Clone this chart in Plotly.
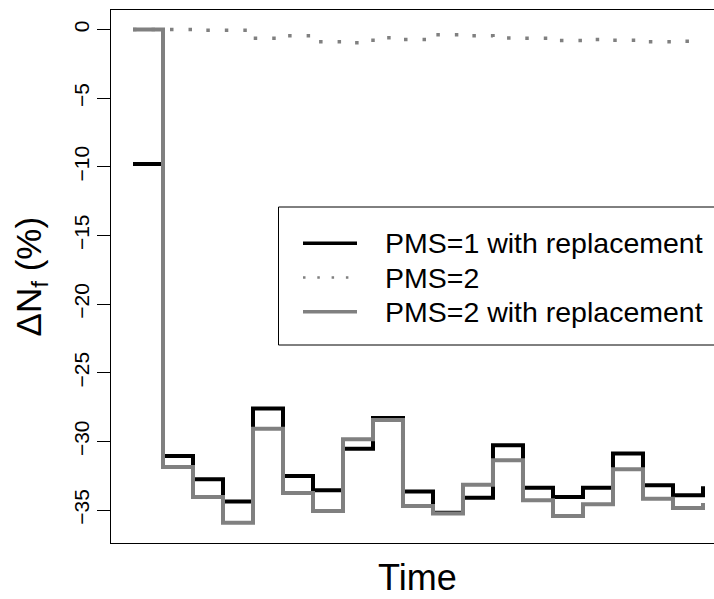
import plotly.graph_objects as go

# ---- data ----
time = list(range(1, 21))
pms1_repl = [-9.8, -31.06, -32.76, -34.37, -27.61, -32.52, -33.56, -30.53, -28.3, -33.64,
             -35.2, -34.1, -30.28, -33.37, -34.05, -33.37, -30.89, -33.2, -33.93, -33.27]
pms2 = [0, 0, -0.05, -0.05, -0.64, -0.45, -0.89, -0.96, -0.6, -0.72,
        -0.38, -0.45, -0.62, -0.64, -0.81, -0.72, -0.79, -0.89, -0.86, -0.86]
pms2_repl = [0, -31.87, -34.05, -35.92, -29.07, -33.76, -35.07, -29.85, -28.45, -34.7,
             -35.25, -33.15, -31.38, -34.29, -35.44, -34.58, -32.03, -34.17, -34.85, -34.49]
y_ticks = [0, -5, -10, -15, -20, -25, -30, -35]
series_names = ["PMS=1 with replacement", "PMS=2", "PMS=2 with replacement"]

FONT = "Liberation Sans, Arial, sans-serif"
GRAY = "#808080"
styles = [dict(color="black", width=4),
          dict(color=GRAY, width=3.5, dash="3.5px,15px"),
          dict(color=GRAY, width=4)]
legend_styles = [dict(color="black", width=3.5),
                 dict(color=GRAY, width=2.5, dash="2.5px,11.8px"),
                 dict(color=GRAY, width=3.5)]

fig = go.Figure()
for name, ys, st in zip(series_names, [pms1_repl, pms2, pms2_repl], styles):
    fig.add_trace(go.Scatter(x=time, y=ys, mode="lines", line_shape="hv",
                             line=st, name=name, showlegend=False))

# plot-area geometry (pixels) used to place the hand-drawn legend
L, T, W, H = 111, 10, 603, 533
px = lambda v: (v - L) / W
py = lambda v: 1 - (v - T) / H

shapes = [dict(type="rect", xref="paper", yref="paper",
               x0=px(278.5), x1=px(900), y0=py(345), y1=py(207),
               line=dict(color="black", width=1), fillcolor="white", layer="above")]
annotations = []
row_y = [243.3, 277.5, 311.7]
for name, ry, st in zip(series_names, row_y, legend_styles):
    shapes.append(dict(type="line", xref="paper", yref="paper",
                       x0=px(303), x1=px(357), y0=py(ry), y1=py(ry),
                       line=st, layer="above"))
    annotations.append(dict(text=name, xref="paper", yref="paper",
                            x=px(383), y=py(ry), xanchor="left", yanchor="middle",
                            showarrow=False, font=dict(size=28.5, family=FONT, color="black")))

annotations += [
    dict(text="\u0394N<sub>f</sub> (%)", xref="paper", yref="paper",
         x=px(30), y=0.5, xanchor="center", yanchor="middle",
         textangle=-90, showarrow=False, font=dict(size=35, family=FONT, color="black")),
    dict(text="Time", xref="paper", yref="paper",
         x=px(417), y=py(577), xanchor="center", yanchor="middle",
         showarrow=False, font=dict(size=36, family=FONT, color="black")),
]

fig.update_layout(
    width=714, height=599,
    margin=dict(l=L, r=0, t=T, b=599 - T - H, autoexpand=False),
    paper_bgcolor="white", plot_bgcolor="white",
    font=dict(family=FONT, color="black"),
    showlegend=False,
    xaxis=dict(range=[0.2667, 20.367], showgrid=False, zeroline=False,
               showticklabels=False, ticks="", showline=True, linecolor="black",
               linewidth=1, mirror=True),
    yaxis=dict(range=[-37.4, 1.42], showgrid=False, zeroline=False,
               tickvals=y_ticks, ticktext=[str(v).replace("-", "\u2212") for v in y_ticks],
               ticks="outside", ticklen=13, tickcolor="black", tickwidth=1,
               tickangle=-90, tickfont=dict(size=21, family=FONT, color="black"),
               showline=True, linecolor="black", linewidth=1, mirror=False),
    shapes=shapes,
    annotations=annotations,
)

fig.write_html("out.html", config={"displayModeBar": False},
               post_script="document.body.style.margin='0';document.body.style.overflow='hidden';")
